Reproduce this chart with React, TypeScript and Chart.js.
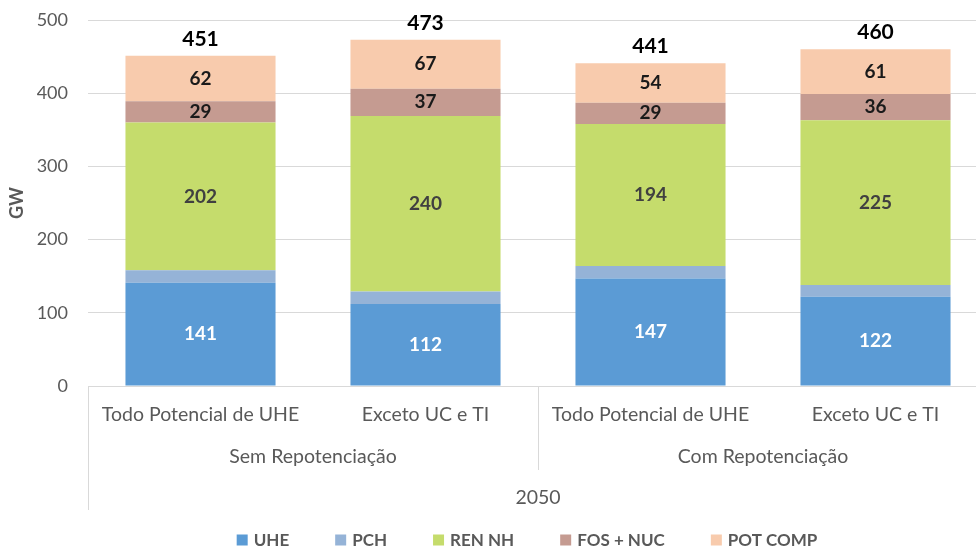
import React, { useEffect, useRef } from "react";
import { Chart, registerables } from "chart.js";

Chart.register(...registerables);

const categories = ["Todo Potencial de UHE", "Exceto UC e TI", "Todo Potencial de UHE", "Exceto UC e TI"];
const groups = ["Sem Repotenciação", "Com Repotenciação"];
const yearLabel = "2050";
const seriesNames = ["UHE", "PCH", "REN NH", "FOS + NUC", "POT COMP"];
const uhe = [141, 112, 147, 122];
const pch = [17, 17, 17, 16];
const renNh = [202, 240, 194, 225];
const fosNuc = [29, 37, 29, 36];
const potComp = [62, 67, 54, 61];
const totals = [451, 473, 441, 460];
const showLabel = [true, false, true, true, true];

const colors = ["#5B9BD5", "#95B3D7", "#C5DC6C", "#C59B91", "#F8CBAD"];
const labelColors = ["#FFFFFF", "#404040", "#404040", "#1a1a1a", "#1a1a1a"];
const FONT = "Lato, 'Open Sans', sans-serif";

const overlayPlugin = {
  id: "overlay",
  afterDatasetsDraw(chart: any) {
    const ctx = chart.ctx;
    ctx.save();
    ctx.textAlign = "center";
    ctx.textBaseline = "middle";
    chart.data.datasets.forEach((ds: any, di: number) => {
      if (!showLabel[di]) return;
      const meta = chart.getDatasetMeta(di);
      meta.data.forEach((bar: any, i: number) => {
        const y = (bar.y + bar.base) / 2;
        ctx.fillStyle = labelColors[di];
        ctx.font = `bold 19px ${FONT}`;
        ctx.fillText(String(ds.data[i]), bar.x, y);
      });
    });
    const topMeta = chart.getDatasetMeta(chart.data.datasets.length - 1);
    const yScale = chart.scales.y;
    topMeta.data.forEach((bar: any, i: number) => {
      ctx.fillStyle = "#000000";
      ctx.font = `bold 21px ${FONT}`;
      ctx.fillText(String(totals[i]), bar.x, yScale.getPixelForValue(totals[i]) - 17);
    });
    ctx.restore();
  },
  afterDraw(chart: any) {
    const ctx = chart.ctx;
    const xs = chart.scales.x;
    const bottom = chart.chartArea.bottom;
    ctx.save();
    ctx.strokeStyle = "#d9d9d9";
    ctx.lineWidth = 1;
    const left = xs.left;
    const right = xs.right;
    const mid = (xs.getPixelForValue(1) + xs.getPixelForValue(2)) / 2;
    ctx.beginPath();
    ctx.moveTo(Math.round(left) + 0.5, bottom);
    ctx.lineTo(Math.round(left) + 0.5, bottom + 124);
    ctx.moveTo(Math.round(mid) + 0.5, bottom);
    ctx.lineTo(Math.round(mid) + 0.5, bottom + 84);
    ctx.moveTo(Math.round(right) + 0.5, bottom);
    ctx.lineTo(Math.round(right) + 0.5, bottom + 124);
    ctx.stroke();
    ctx.fillStyle = "#595959";
    ctx.font = `19.5px ${FONT}`;
    ctx.textAlign = "center";
    ctx.textBaseline = "middle";
    groups.forEach((g, gi) => {
      const x = (xs.getPixelForValue(gi * 2) + xs.getPixelForValue(gi * 2 + 1)) / 2;
      ctx.fillText(g, x, bottom + 71);
    });
    ctx.fillText(yearLabel, (left + right) / 2, bottom + 112);
    ctx.font = `bold 17px ${FONT}`;
    const box = 11;
    const gapBox = 6;
    const gapItem = 46;
    const widths = seriesNames.map((n) => box + gapBox + ctx.measureText(n).width);
    const total = widths.reduce((a, b) => a + b, 0) + gapItem * (seriesNames.length - 1);
    let x = 527 - total / 2;
    const ly = 540;
    ctx.textAlign = "left";
    seriesNames.forEach((n, i) => {
      ctx.fillStyle = colors[i];
      ctx.fillRect(x, ly - box / 2, box, box);
      ctx.fillStyle = "#595959";
      ctx.fillText(n, x + box + gapBox, ly + 1);
      x += widths[i] + gapItem;
    });
    ctx.restore();
  },
};

export default function App() {
  const ref = useRef<HTMLCanvasElement>(null);
  useEffect(() => {
    document.body.style.margin = "0";
    document.body.style.overflow = "hidden";
    const seriesData = [uhe, pch, renNh, fosNuc, potComp];
    const chart = new Chart(ref.current as HTMLCanvasElement, {
      type: "bar",
      data: {
        labels: categories,
        datasets: seriesNames.map((n, i) => ({
          label: n,
          data: seriesData[i],
          backgroundColor: colors[i],
          borderWidth: 0,
          categoryPercentage: 1,
          barPercentage: 0.667,
        })),
      },
      options: {
        animation: false,
        responsive: false,
        maintainAspectRatio: false,
        layout: { padding: { top: 20, right: 0, left: 6, bottom: 0 } },
        plugins: { legend: { display: false }, tooltip: { enabled: false } },
        scales: {
          x: {
            stacked: true,
            grid: { display: false, drawTicks: false },
            border: { display: true, color: "#d9d9d9" },
            ticks: { color: "#595959", font: { family: FONT, size: 19.5 }, padding: 17, maxRotation: 0, autoSkip: false },
            afterFit: (s: any) => { s.height = 165; },
          },
          y: {
            stacked: true,
            min: 0,
            max: 500,
            grid: { color: "#d9d9d9", drawTicks: false },
            border: { display: false },
            ticks: { stepSize: 100, color: "#595959", font: { family: FONT, size: 18 }, padding: 20 },
            title: { display: true, text: "GW", color: "#595959", font: { family: FONT, size: 18, weight: "bold" }, padding: { top: 0, bottom: 6 } },
            afterFit: (s: any) => { s.width = 82; s.paddingTop = 0; s.paddingBottom = 0; },
          },
        },
      },
      plugins: [overlayPlugin],
    });
    return () => chart.destroy();
  }, []);
  return (
    <div style={{ width: 976, height: 551, overflow: "hidden" }}>
      <canvas ref={ref} width={988} height={551} style={{ display: "block" }} />
    </div>
  );
}
